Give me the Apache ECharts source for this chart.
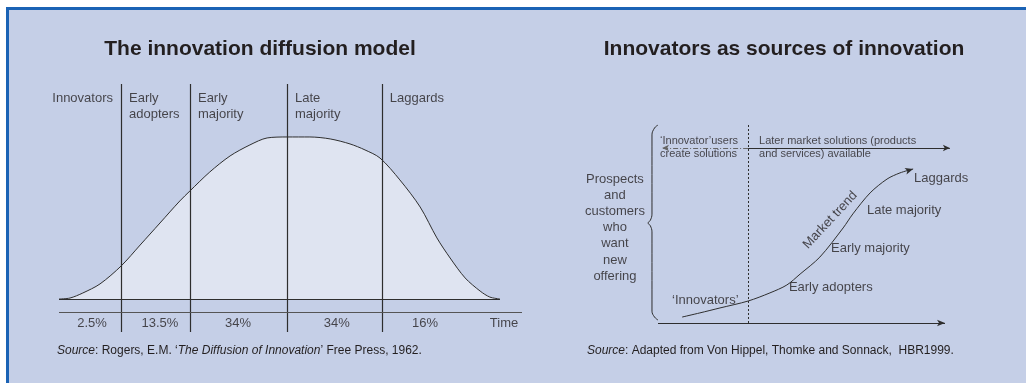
<!DOCTYPE html>
<html>
<head>
<meta charset="utf-8">
<script src="https://cdn.jsdelivr.net/npm/echarts@6/dist/echarts.min.js"></script>
<style>
html, body { margin: 0; padding: 0; background: #fff; }
#frame {
  position: absolute; left: 6px; top: 7px; width: 1020px; height: 376px;
  box-sizing: border-box; border-top: 3px solid #1b63b5; border-left: 3px solid #1b63b5;
  background: #c5cfe7;
}
#chart { position: absolute; left: 0; top: 0; width: 1026px; height: 383px; }
</style>
</head>
<body>
<div id="frame"></div>
<div id="chart"></div>
<script>
// left panel: diffusion curve (time 0..100, adoption as % of peak)
const diffusionTime = [0, 2.5, 5.4, 9.3, 14.1, 18.4, 22.9, 27.4, 29.7, 34.2, 38.8, 43.3, 47.2, 51.7,
  56.9, 61.5, 66.0, 69.4, 72.8, 77.3, 81.9, 85.7, 88.7, 92.1, 95.5, 97.7, 100]
const diffusionAdoption = [0, 0.6, 3.7, 9.3, 20.4, 33.3, 46.9, 60.5, 66.7, 78.4, 88.3, 95.1, 99.4, 100,
  100, 98.8, 95.7, 92.0, 87.0, 73.5, 56.8, 37.7, 25.3, 13.0, 4.9, 1.2, 0]
const segmentBounds = [14.06, 29.7, 51.7, 73.2]
const segmentNames = ['Innovators', 'Early\nadopters', 'Early\nmajority', 'Late\nmajority', 'Laggards']
const segmentShares = ['2.5%', '13.5%', '34%', '34%', '16%']
const shareAt = [7.5, 22.9, 40.6, 63.0, 83.0]

// right panel: market trend S-curve
const trendX = [8.4, 14.6, 21.6, 31.4, 39.0, 44.9, 49.5, 56.4, 64.5, 67.9, 73.9, 79.8, 84.3, 88.9]
const trendY = [3.0, 5.1, 7.6, 11.1, 15.2, 19.2, 24.7, 33.3, 48.0, 55.1, 65.7, 72.7, 75.8, 77.8]
const trendStages = ['‘Innovators’', 'Early adopters', 'Early majority', 'Late majority', 'Laggards']
const stageX = [4.9, 45.6, 60.3, 72.8, 89.2]
const stageY = [11.6, 18.2, 37.9, 57.1, 73.2]
const splitAt = 31.4
const solutionsY = 88.4
const braceX = [0, -1.2, -2.1, -2.1, -2.7, -3.5, -2.7, -2.1, -2.1, -1.2, 0]
const braceY = [100, 98.5, 95, 55, 51.8, 50.5, 49.2, 46, 6, 3, 1.5]

const FONT = '"Liberation Sans", Arial, Helvetica, sans-serif'
const INK = '#231f20'
const LINE = '#2e2e2e'

function textPoint (x, y, text, label) {
  return {
    value: [x, y],
    label: Object.assign({
      show: true, formatter: text, color: INK, fontFamily: FONT, fontSize: 13, position: [0, 0]
    }, label)
  }
}

const chart = echarts.init(document.getElementById('chart'))

const segmentLabels = segmentNames.map((name, i) => {
  if (i === 0) {
    return textPoint(segmentBounds[0], 129, name, { align: 'right', verticalAlign: 'top', lineHeight: 16, position: [-8, 0] })
  }
  return textPoint(segmentBounds[i - 1], 129, name, { align: 'left', verticalAlign: 'top', lineHeight: 16, position: [8, 0] })
})
const shareLabels = segmentShares.map((s, i) =>
  textPoint(shareAt[i], -14.8, s, { align: 'center', verticalAlign: 'middle' }))
shareLabels.push(textPoint(97.7, -14.8, 'Time', { align: 'left', verticalAlign: 'middle' }))

const stageLabels = trendStages.map((s, i) =>
  textPoint(stageX[i], stageY[i], s, { align: 'left', verticalAlign: 'middle' }))
stageLabels.push(textPoint(60.0, 52.0, 'Market trend', { align: 'center', verticalAlign: 'middle', rotate: 47 }))
stageLabels.push(textPoint(0.7, solutionsY, '‘Innovator’users\ncreate solutions',
  { align: 'left', verticalAlign: 'middle', fontSize: 11, lineHeight: 13 }))
stageLabels.push(textPoint(35.2, solutionsY, 'Later market solutions (products\nand services) available',
  { align: 'left', verticalAlign: 'middle', fontSize: 11, lineHeight: 13 }))
stageLabels.push(textPoint(-15, 48.2, 'Prospects\nand\ncustomers\nwho\nwant\nnew\noffering',
  { align: 'center', verticalAlign: 'middle', lineHeight: 16.2 }))

const trendData = trendX.map((x, i) => [x, trendY[i]])
const last = trendData.length - 1
trendData[last] = { value: trendData[last], symbol: 'arrow', symbolSize: [5, 8], symbolRotate: -73 }

chart.setOption({
  animation: false,
  grid: [
    { left: 59, top: 84, width: 463, height: 248 },
    // x from -5 to 102 at 2.87 px per unit, so 0 sits at x=658
    { left: 643.65, top: 125, width: 307.1, height: 198 }
  ],
  xAxis: [
    { gridIndex: 0, type: 'value', min: 0, max: 105, show: false },
    { gridIndex: 1, type: 'value', min: -5, max: 102, show: false }
  ],
  yAxis: [
    { gridIndex: 0, type: 'value', min: -20.37, max: 132.7, show: false },
    { gridIndex: 1, type: 'value', min: 0, max: 100, show: false }
  ],
  graphic: [
    {
      type: 'text', x: 260, y: 49,
      style: { text: 'The innovation diffusion model', fontFamily: FONT, fontSize: 21, fontWeight: 'bold', fill: INK, align: 'center', verticalAlign: 'middle' }
    },
    {
      type: 'text', x: 784, y: 49,
      style: { text: 'Innovators as sources of innovation', fontFamily: FONT, fontSize: 21, fontWeight: 'bold', fill: INK, align: 'center', verticalAlign: 'middle' }
    },
    {
      type: 'text', x: 57, y: 351,
      style: {
        text: '{i|Source}: Rogers, E.M. ‘{i|The Diffusion of Innovation}’ Free Press, 1962.',
        fontFamily: FONT, fontSize: 12, fill: INK, verticalAlign: 'middle',
        rich: { i: { fontStyle: 'italic', fontFamily: FONT, fontSize: 12, fill: INK } }
      }
    },
    {
      type: 'text', x: 587, y: 351,
      style: {
        text: '{i|Source}: Adapted from Von Hippel, Thomke and Sonnack,  HBR1999.',
        fontFamily: FONT, fontSize: 12, fill: INK, verticalAlign: 'middle',
        rich: { i: { fontStyle: 'italic', fontFamily: FONT, fontSize: 12, fill: INK } }
      }
    }
  ],
  series: [
    {
      name: 'Adoption',
      type: 'line',
      xAxisIndex: 0, yAxisIndex: 0,
      data: diffusionTime.map((t, i) => [t, diffusionAdoption[i]]),
      smooth: 0.3,
      symbol: 'none',
      lineStyle: { color: LINE, width: 1 },
      areaStyle: { color: '#dfe4f1', opacity: 1 },
      markLine: {
        silent: true,
        symbol: ['none', 'none'],
        label: { show: false },
        lineStyle: { color: LINE, width: 1.2, type: 'solid' },
        data: segmentBounds.map(b => ({ xAxis: b }))
          .concat([
            [{ coord: [0, 0] }, { coord: [100, 0] }],
            { yAxis: -8.02, lineStyle: { color: '#555', width: 1 } }
          ])
      }
    },
    {
      name: 'Segments',
      type: 'scatter',
      xAxisIndex: 0, yAxisIndex: 0,
      symbolSize: 0,
      clip: false,
      silent: true,
      data: segmentLabels.concat(shareLabels)
    },
    {
      name: 'Market trend',
      type: 'line',
      xAxisIndex: 1, yAxisIndex: 1,
      data: trendData,
      smooth: 0.3,
      symbol: 'none',
      itemStyle: { color: LINE },
      lineStyle: { color: LINE, width: 1 },
      markLine: {
        silent: true,
        symbol: ['none', 'none'],
        label: { show: false },
        data: [
          { xAxis: splitAt, lineStyle: { color: LINE, width: 1, type: [2, 2] } },
          [
            { coord: [0, 0], symbol: 'none' },
            { coord: [100, 0], symbol: 'arrow', symbolSize: [5, 8], lineStyle: { color: LINE, width: 1, type: 'solid' } }
          ],
          [
            { coord: [splitAt, solutionsY], symbol: 'none' },
            { coord: [1.4, solutionsY], symbol: 'arrow', symbolSize: [5, 7], lineStyle: { color: '#666', width: 1, type: [5, 2, 1, 2] } }
          ],
          [
            { coord: [splitAt, solutionsY], symbol: 'none' },
            { coord: [101.7, solutionsY], symbol: 'arrow', symbolSize: [5, 7], lineStyle: { color: LINE, width: 1, type: 'solid' } }
          ]
        ]
      }
    },
    {
      name: 'Brace',
      type: 'line',
      xAxisIndex: 1, yAxisIndex: 1,
      data: braceX.map((x, i) => [x, braceY[i]]),
      smooth: 0.4,
      symbol: 'none',
      lineStyle: { color: LINE, width: 1 }
    },
    {
      name: 'Stages',
      type: 'scatter',
      xAxisIndex: 1, yAxisIndex: 1,
      symbolSize: 0,
      clip: false,
      silent: true,
      data: stageLabels
    }
  ]
})
</script>
</body>
</html>
